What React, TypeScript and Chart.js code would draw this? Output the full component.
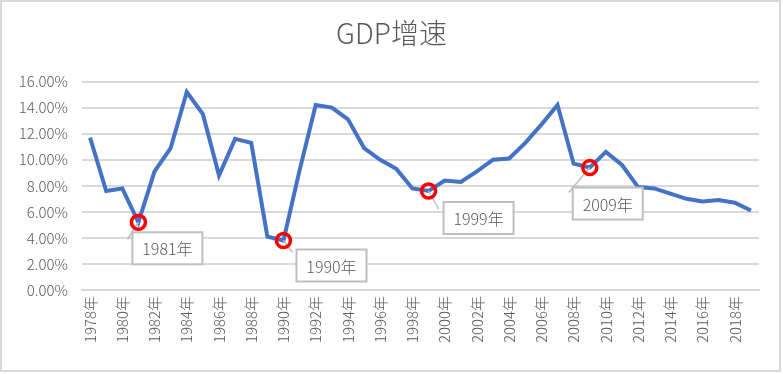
import React, { useEffect, useRef } from "react";
import { Chart, registerables } from "chart.js";

Chart.register(...registerables);

const years: string[] = [
  "1978年","1979年","1980年","1981年","1982年","1983年","1984年","1985年","1986年","1987年",
  "1988年","1989年","1990年","1991年","1992年","1993年","1994年","1995年","1996年","1997年",
  "1998年","1999年","2000年","2001年","2002年","2003年","2004年","2005年","2006年","2007年",
  "2008年","2009年","2010年","2011年","2012年","2013年","2014年","2015年","2016年","2017年",
  "2018年","2019年",
];

const gdpGrowth: number[] = [
  11.7, 7.6, 7.8, 5.2, 9.1, 10.9, 15.2, 13.5, 8.8, 11.6,
  11.3, 4.1, 3.8, 9.2, 14.2, 14.0, 13.1, 10.9, 10.0, 9.3,
  7.8, 7.6, 8.4, 8.3, 9.1, 10.0, 10.1, 11.3, 12.7, 14.2,
  9.7, 9.4, 10.6, 9.6, 7.9, 7.8, 7.4, 7.0, 6.8, 6.9,
  6.7, 6.1,
];

const highlightYears: string[] = ["1981年", "1990年", "1999年", "2009年"];

const FONT = "'Noto Sans CJK SC', 'Noto Sans', sans-serif";
const TEXT = "#595959";
const GRID = "#d9d9d9";

// style: label box placement relative to the highlighted point
const boxStyle: Record<string, { dx: number; dy: number; lx: number; ly: number }> = {
  "1981年": { dx: -6, dy: 10, lx: -11, ly: 17 },
  "1990年": { dx: 13, dy: 9, lx: 9, ly: 12 },
  "1999年": { dx: 15, dy: 11, lx: 10, ly: 18 },
  "2009年": { dx: -17, dy: 20, lx: -21, ly: 25 },
};

const annotPlugin = {
  id: "annot",
  beforeDraw(chart: any) {
    const ctx = chart.ctx;
    ctx.save();
    ctx.fillStyle = "#ffffff";
    ctx.fillRect(0, 0, chart.width, chart.height);
    ctx.restore();
  },
  afterDatasetsDraw(chart: any) {
    const ctx = chart.ctx;
    const meta = chart.getDatasetMeta(0);
    ctx.save();
    highlightYears.forEach((y) => {
      const idx = years.indexOf(y);
      const pt = meta.data[idx];
      if (!pt) return;
      const st = boxStyle[y];
      ctx.strokeStyle = "#bfbfbf";
      ctx.lineWidth = 1.5;
      ctx.beginPath();
      ctx.moveTo(pt.x, pt.y);
      ctx.lineTo(pt.x + st.lx, pt.y + st.ly);
      ctx.stroke();
      ctx.strokeStyle = "#ff0000";
      ctx.lineWidth = 3.5;
      ctx.beginPath();
      ctx.arc(pt.x, pt.y, 7, 0, Math.PI * 2);
      ctx.stroke();
      const w = 70, h = 32;
      const bx = pt.x + st.dx, by = pt.y + st.dy;
      ctx.fillStyle = "#ffffff";
      ctx.fillRect(bx, by, w, h);
      ctx.strokeStyle = "#bfbfbf";
      ctx.lineWidth = 2;
      ctx.strokeRect(bx, by, w, h);
      ctx.fillStyle = TEXT;
      ctx.font = `300 16px ${FONT}`;
      ctx.textAlign = "center";
      ctx.textBaseline = "middle";
      ctx.fillText(y, bx + w / 2, by + h / 2 + 1);
    });
    ctx.restore();
  },
  afterDraw(chart: any) {
    const ctx = chart.ctx;
    ctx.save();
    ctx.strokeStyle = GRID;
    ctx.lineWidth = 2;
    ctx.strokeRect(1, 1, chart.width - 4, chart.height - 4);
    ctx.restore();
  },
};

export default function App() {
  const ref = useRef<HTMLCanvasElement | null>(null);

  useEffect(() => {
    document.body.style.margin = "0";
    if (!ref.current) return;
    const chart = new Chart(ref.current, {
      type: "line",
      data: {
        labels: years,
        datasets: [
          {
            data: gdpGrowth,
            borderColor: "#4472c4",
            borderWidth: 4,
            pointRadius: 0,
            tension: 0,
            fill: false,
            yAxisID: "y",
          },
        ],
      },
      options: {
        animation: false,
        responsive: false,
        layout: { padding: { left: 0, right: 0, top: 0, bottom: 0 } },
        plugins: {
          legend: { display: false },
          tooltip: { enabled: false },
          title: {
            display: true,
            text: "GDP增速",
            color: TEXT,
            font: { family: FONT, size: 28, weight: "300" },
            padding: { top: 17, bottom: 31 },
          },
        },
        scales: {
          x: {
            offset: true,
            grid: { display: false, drawTicks: false },
            border: { display: true, color: GRID, width: 2 },
            ticks: {
              autoSkip: false,
              maxRotation: 90,
              minRotation: 90,
              padding: 6,
              color: TEXT,
              font: { family: FONT, size: 15, weight: "300" },
              callback: (_v: any, i: number) => (i % 2 === 0 ? years[i] : ""),
            },
            afterFit: (s: any) => {
              s.height = 84;
            },
          },
          y: {
            position: "left",
            min: 0,
            max: 16,
            grid: { color: GRID, lineWidth: 2, drawTicks: false },
            border: { display: false },
            ticks: {
              stepSize: 2,
              padding: 14,
              color: TEXT,
              font: { family: FONT, size: 15, weight: "300" },
              callback: (v: any) => Number(v).toFixed(2) + "%",
            },
            afterFit: (s: any) => {
              s.width = 82;
            },
          },
          yRight: {
            position: "right",
            min: 0,
            max: 16,
            grid: { display: false, drawTicks: false },
            border: { display: false },
            ticks: { display: false },
            afterFit: (s: any) => {
              s.width = 24;
            },
          },
        },
      },
      plugins: [annotPlugin],
    });
    return () => chart.destroy();
  }, []);

  return (
    <div style={{ width: 783, height: 374 }}>
      <canvas ref={ref} width={783} height={374} style={{ display: "block" }} />
    </div>
  );
}
